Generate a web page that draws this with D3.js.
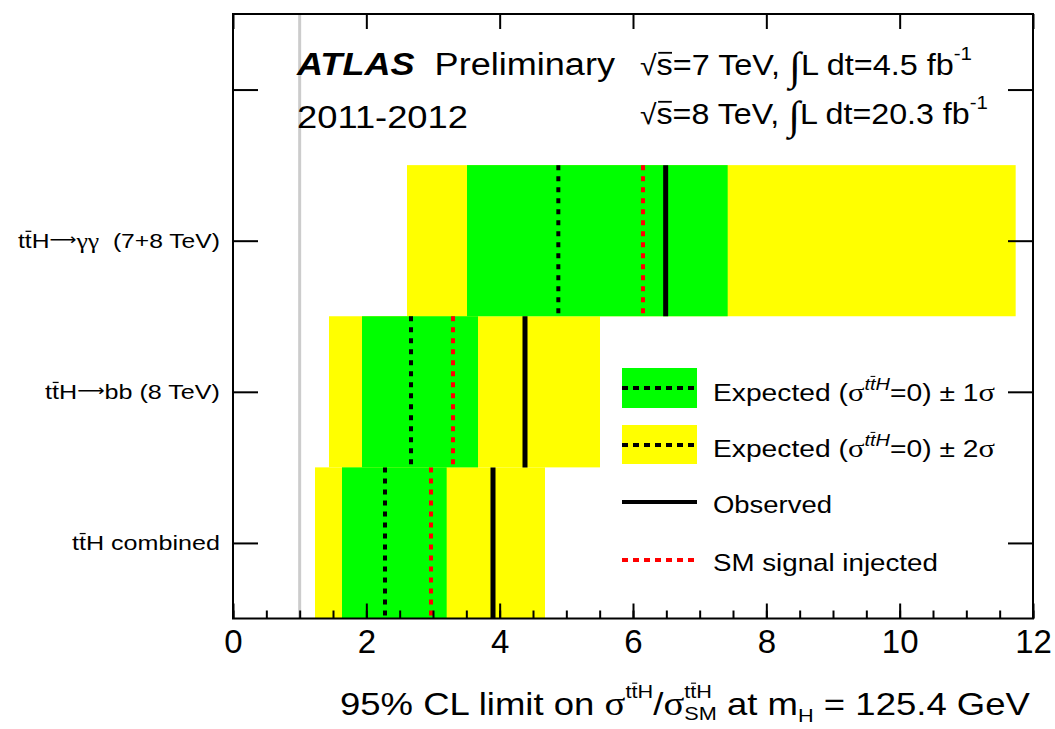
<!DOCTYPE html>
<html><head><meta charset="utf-8">
<script src="https://cdn.jsdelivr.net/npm/d3@7"></script>
<style>body{margin:0;background:#fff} svg{display:block}</style>
</head><body><svg id="c" width="1055" height="729"></svg>
<script>
// ---- data (bottom row first) ----
const categories = ["ttH combined", "ttH→bb (8 TeV)", "ttH→γγ (7+8 TeV)"];
const minus2 = [1.23, 1.44, 2.61];
const minus1 = [1.635, 1.935, 3.51];
const plus1 = [3.205, 3.675, 7.42];
const plus2 = [4.68, 5.505, 11.74];
const expected = [2.28, 2.67, 4.88];
const smInjected = [2.97, 3.30, 6.15];
const observed = [3.90, 4.38, 6.49];
const xTicks = [0, 2, 4, 6, 8, 10, 12];
const xMinorTicks = d3.range(0, 12.01, 0.5);
const smLine = 1;

const SANS = '"Liberation Sans",Arial,Helvetica,sans-serif';
const SERIF = '"Liberation Serif","Times New Roman",serif';
const DJ = '"DejaVu Sans",sans-serif';
const svg = d3.select("#c");
const m = {l: 233, r: 1033, t: 14, b: 618.5};
const x = d3.scaleLinear().domain([0, 12]).range([m.l, m.r]);
const y = d3.scaleLinear().domain([0, 4]).range([m.b, m.t]);

function rich(parent, pieces, o) {
  const g = parent.append("g");
  let cx = 0, s0 = 0;
  pieces.forEach(p => {
    if (p.save) s0 = cx;
    let e1 = null;
    if (p.back) { e1 = cx; cx = s0; }
    const fs = p.fs || o.fs;
    const dy = p.dy || 0;
    const t = g.append("text").attr("x", cx).attr("y", dy).attr("font-size", fs)
      .style("font-family", p.fam || SANS).style("font-weight", p.w || "normal")
      .style("font-style", p.it ? "italic" : "normal").attr("fill", "#000")
      .style("white-space", "pre").text(p.t);
    const w = t.node().getComputedTextLength();
    if (p.over) {
      g.append("line").attr("x1", cx + w * 0.1).attr("x2", cx + w * 0.95)
        .attr("y1", dy - fs * (p.overY || 0.8)).attr("y2", dy - fs * (p.overY || 0.8))
        .attr("stroke", "#000").attr("stroke-width", Math.max(1, fs * 0.06));
    }
    cx += w;
    if (e1 !== null) cx = Math.max(cx, e1);
  });
  const sx = o.width ? o.width / cx : 1;
  const w = cx * sx;
  const x0 = o.anchor === "end" ? o.x - w : o.x;
  g.attr("transform", `translate(${x0},${o.y}) scale(${sx},1)`);
  return g;
}

// grey SM line
svg.append("line").attr("x1", x(smLine)).attr("x2", x(smLine)).attr("y1", m.t).attr("y2", m.b)
  .attr("stroke", "#cccccc").attr("stroke-width", 3);

// bands
const idx = d3.range(categories.length);
svg.append("g").selectAll("rect").data(idx).join("rect")
  .attr("x", i => x(minus2[i])).attr("width", i => x(plus2[i]) - x(minus2[i]))
  .attr("y", i => y(i + 1)).attr("height", i => y(i) - y(i + 1)).attr("fill", "#ffff00");
svg.append("g").selectAll("rect").data(idx).join("rect")
  .attr("x", i => x(minus1[i])).attr("width", i => x(plus1[i]) - x(minus1[i]))
  .attr("y", i => y(i + 1)).attr("height", i => y(i) - y(i + 1)).attr("fill", "#00ff00");

function vlines(vals, color, width, dash) {
  svg.append("g").selectAll("line").data(idx).join("line")
    .attr("x1", i => x(vals[i])).attr("x2", i => x(vals[i]))
    .attr("y1", i => y(i + 1)).attr("y2", i => y(i))
    .attr("stroke", color).attr("stroke-width", width)
    .attr("stroke-dasharray", dash);
}
vlines(expected, "#000", 4, "5,6");
vlines(smInjected, "#ff0000", 4, "5,6");
vlines(observed, "#000", 5, null);

// axes
const axB = svg.append("g").attr("transform", `translate(0,${m.b})`);
axB.call(d3.axisBottom(x).tickValues(xMinorTicks).tickSize(-8).tickFormat(""));
axB.call(g => g.select(".domain").remove());
const axB2 = svg.append("g").attr("transform", `translate(0,${m.b})`);
axB2.call(d3.axisBottom(x).tickValues(xTicks).tickSize(-15).tickPadding(11).tickFormat(d3.format("d")));
axB2.select(".domain").remove();
axB2.selectAll("text").attr("font-size", 33).style("font-family", SANS).attr("fill", "#000");
const axT = svg.append("g").attr("transform", `translate(0,${m.t})`);
axT.call(d3.axisTop(x).tickValues(xMinorTicks).tickSize(-8).tickFormat(""));
axT.call(d3.axisTop(x).tickValues(xTicks).tickSize(-15).tickFormat(""));
axT.selectAll(".domain").remove();
const yTickVals = [0.5, 1.5, 2.5, 3.5];
const axL = svg.append("g").attr("transform", `translate(${m.l},0)`);
axL.call(d3.axisLeft(y).tickValues(yTickVals).tickSize(-25).tickFormat(""));
axL.select(".domain").remove();
const axR = svg.append("g").attr("transform", `translate(${m.r},0)`);
axR.call(d3.axisRight(y).tickValues(yTickVals).tickSize(-25).tickFormat(""));
axR.select(".domain").remove();
svg.selectAll(".tick line").attr("stroke", "#000").attr("stroke-width", 2);

// frame
svg.append("rect").attr("x", m.l).attr("y", m.t).attr("width", m.r - m.l).attr("height", m.b - m.t)
  .attr("fill", "none").attr("stroke", "#000").attr("stroke-width", 2);

// y labels
const arrow = {t: "⟶", fam: DJ, fs: 16, dy: -3};
const yLabelPieces = [
  [{t: "t"}, {t: "t", over: true, overY: 0.78}, {t: "H combined"}],
  [{t: "t"}, {t: "t", over: true, overY: 0.78}, {t: "H"}, arrow, {t: "bb (8 TeV)"}],
  [{t: "t"}, {t: "t", over: true, overY: 0.78}, {t: "H"}, arrow, {t: "γγ", fam: SERIF, fs: 22}, {t: "  (7+8 TeV)"}]
];
const yLabelWidths = [148, 175, 202];
idx.forEach(i => rich(svg, yLabelPieces[i], {x: 220, y: y(i + 0.5) + 7, fs: 21, anchor: "end", width: yLabelWidths[i]}));

// header
rich(svg, [{t: "ATLAS", w: "bold", it: true}, {t: "  Preliminary"}], {x: 297, y: 75, fs: 31, width: 318});
rich(svg, [{t: "2011-2012"}], {x: 297, y: 128, fs: 32, width: 171});
rich(svg, [{t: "√", fs: 28}, {t: "s", over: true, overY: 0.74}, {t: "=7 TeV, "}, {t: "∫", fam: SERIF, fs: 40, dy: 5}, {t: "L dt=4.5 fb"}, {t: "-1", fs: 19, dy: -15}],
  {x: 640, y: 75, fs: 30, width: 332});
rich(svg, [{t: "√", fs: 28}, {t: "s", over: true, overY: 0.74}, {t: "=8 TeV, "}, {t: "∫", fam: SERIF, fs: 40, dy: 5}, {t: "L dt=20.3 fb"}, {t: "-1", fs: 19, dy: -15}],
  {x: 640, y: 124, fs: 30, width: 348});

// x title
rich(svg, [
  {t: "95% CL limit on "}, {t: "σ", fam: SERIF, fs: 34},
  {t: "t", fs: 19, dy: -17}, {t: "t", fs: 19, dy: -17, over: true, overY: 0.78}, {t: "H", fs: 19, dy: -17},
  {t: "/"}, {t: "σ", fam: SERIF, fs: 34},
  {t: "t", fs: 19, dy: -17, save: true}, {t: "t", fs: 19, dy: -17, over: true, overY: 0.78}, {t: "H", fs: 19, dy: -17},
  {t: "SM", fs: 19, dy: 5, back: true},
  {t: " at m"}, {t: "H", fs: 19, dy: 7}, {t: " = 125.4 GeV"}
], {x: 1030, y: 715, fs: 32, anchor: "end", width: 690});

// legend
const lg = svg.append("g");
lg.append("rect").attr("x", 622).attr("y", 368).attr("width", 75).attr("height", 40).attr("fill", "#00ff00");
lg.append("rect").attr("x", 622).attr("y", 425).attr("width", 75).attr("height", 39).attr("fill", "#ffff00");
lg.append("line").attr("x1", 622).attr("x2", 697).attr("y1", 388).attr("y2", 388).attr("stroke", "#000").attr("stroke-width", 4).attr("stroke-dasharray", "6,5");
lg.append("line").attr("x1", 622).attr("x2", 697).attr("y1", 445).attr("y2", 445).attr("stroke", "#000").attr("stroke-width", 4).attr("stroke-dasharray", "6,5");
lg.append("line").attr("x1", 622).attr("x2", 697).attr("y1", 502).attr("y2", 502).attr("stroke", "#000").attr("stroke-width", 4);
lg.append("line").attr("x1", 622).attr("x2", 697).attr("y1", 560).attr("y2", 560).attr("stroke", "#ff0000").attr("stroke-width", 4).attr("stroke-dasharray", "6,5");
const expPieces = s => [{t: "Expected ("}, {t: "σ", fam: SERIF, fs: 26},
  {t: "t", fs: 17, dy: -11, it: true}, {t: "t", fs: 17, dy: -11, it: true, over: true, overY: 0.8}, {t: "H", fs: 17, dy: -11, it: true},
  {t: "=0) ± " + s}, {t: "σ", fam: SERIF, fs: 26}];
rich(lg, expPieces("1"), {x: 713, y: 401, fs: 24, width: 282});
rich(lg, expPieces("2"), {x: 713, y: 457, fs: 24, width: 282});
rich(lg, [{t: "Observed"}], {x: 713, y: 513, fs: 24, width: 119});
rich(lg, [{t: "SM signal injected"}], {x: 713, y: 571, fs: 24, width: 225});
</script></body></html>
